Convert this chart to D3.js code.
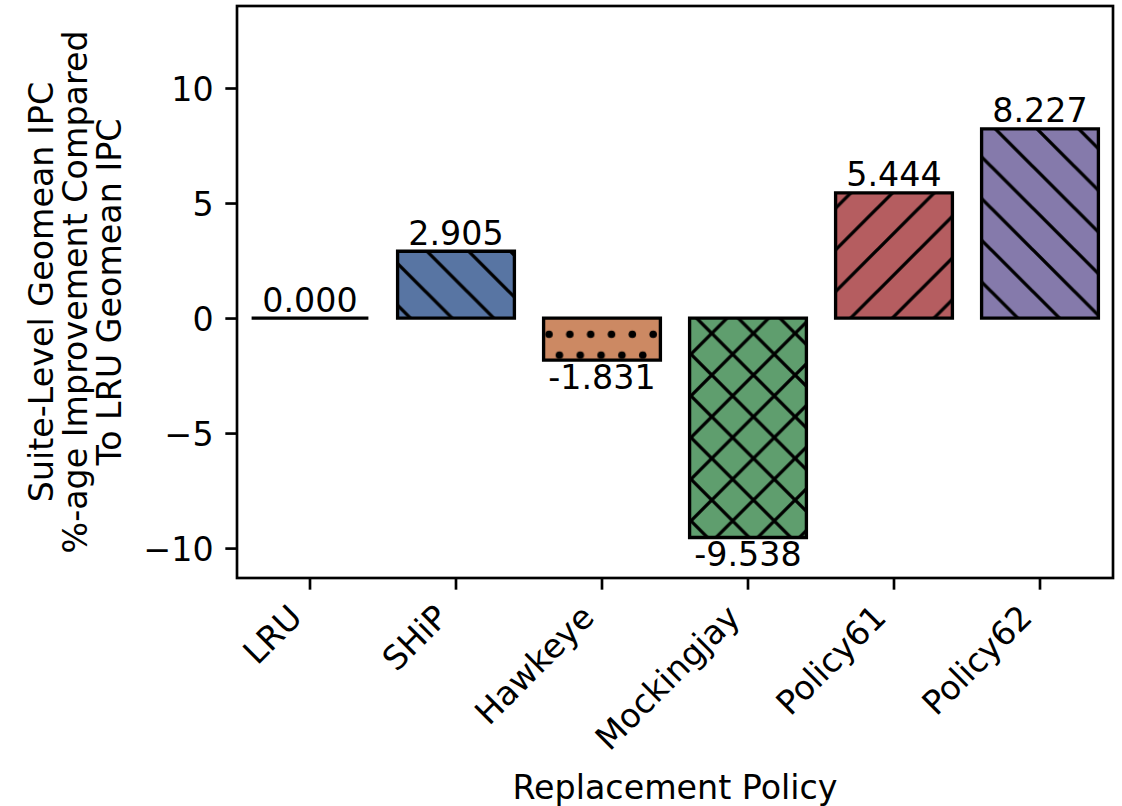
<!DOCTYPE html>
<html><head><meta charset="utf-8">
<script src="https://cdn.jsdelivr.net/npm/d3@7"></script>
<style>body{margin:0;background:#fff}</style>
</head><body><svg id="c" width="1122" height="806"></svg>
<script>
const categories = ["LRU", "SHiP", "Hawkeye", "Mockingjay", "Policy61", "Policy62"];
const values = [0.000, 2.905, -1.831, -9.538, 5.444, 8.227];
const colors = ["#5875a3", "#5875a3", "#cc8963", "#5f9e6e", "#b55d60", "#857aab"];
const hatches = ["", "\\", ".", "x", "/", "\\"];
const hatchPhase = [[0,0], [9,0], [543.8,323.9], [3.4,0], [2,0], [33,0]];
const yTicks = [-10, -5, 0, 5, 10];
const yDomain = [-11.30, 13.565];
const yLabelLines = ["Suite-Level Geomean IPC", "%-age Improvement Compared", "To LRU Geomean IPC"];
const xLabel = "Replacement Policy";

const W = 1122, H = 806;
const L = 237, R = 1113, T = 6, B = 578;
const FS = 33.3, LW = 3.33, SW = 2.67, TL = 11.67, PAD = 11.67;
const FONT = "DejaVu Sans";
const S = 41.67;

const svg = d3.select("#c");
const x = d3.scaleBand().domain(categories).range([L, R]).paddingInner(0.2).paddingOuter(0.1);
const y = d3.scaleLinear().domain(yDomain).range([B, T]);

const defs = svg.append("defs");
function linesPath(kind) {
  let d = "";
  if (kind === "\\" || kind === "x") {
    for (const c of [-S, 0, S]) d += `M${c-10},${-10}L${c+S+10},${S+10}`;
  }
  if (kind === "/" || kind === "x") {
    for (const c of [0, S, 2*S]) d += `M${c+10},${-10}L${c-S-10},${S+10}`;
  }
  return d;
}
hatches.forEach((h, i) => {
  if (!h) return;
  const p = defs.append("pattern").attr("id", "hp" + i)
    .attr("patternUnits", "userSpaceOnUse")
    .attr("patternTransform", `translate(${hatchPhase[i][0]},${hatchPhase[i][1]})`);
  if (h === ".") {
    p.attr("width", S/2).attr("height", S);
    [[S/8, S/4], [3*S/8, 3*S/4]].forEach(([cx, cy]) => {
      for (const dx of [-S/2, 0, S/2]) for (const dy of [-S, 0, S])
        p.append("circle").attr("cx", cx+dx).attr("cy", cy+dy).attr("r", 3.8).attr("fill", "#000");
    });
  } else {
    p.attr("width", S).attr("height", S);
    p.append("path").attr("d", linesPath(h)).attr("stroke", "#000").attr("stroke-width", LW).attr("fill", "none");
  }
});

// bars
const g = svg.append("g");
function barPath(i) {
  const x0 = x(categories[i]), x1 = x0 + x.bandwidth();
  const ya = y(0), yb = y(values[i]);
  return `M${x0},${ya}H${x1}V${yb}H${x0}Z`;
}
categories.forEach((c, i) => {
  g.append("path").attr("d", barPath(i)).attr("fill", colors[i]);
  if (hatches[i]) g.append("path").attr("d", barPath(i)).attr("fill", `url(#hp${i})`);
  g.append("path").attr("d", barPath(i)).attr("fill", "none").attr("stroke", "#000")
    .attr("stroke-width", LW).attr("stroke-linejoin", "miter");
});

// value labels
categories.forEach((c, i) => {
  const v = values[i];
  const cx = x(c) + x.bandwidth()/2;
  const ty = v >= 0 ? y(v) - 6.5 : y(v) + 29;
  svg.append("text").attr("x", cx).attr("y", ty).attr("text-anchor", "middle")
    .attr("font-family", FONT).attr("font-size", FS).attr("fill", "#000")
    .text(v.toFixed(3));
});

// frame
svg.append("rect").attr("x", L).attr("y", T).attr("width", R-L).attr("height", B-T)
  .attr("fill", "none").attr("stroke", "#000").attr("stroke-width", SW);

// y axis
const yAxis = svg.append("g").attr("transform", `translate(${L},0)`)
  .call(d3.axisLeft(y).tickValues(yTicks).tickSize(TL).tickPadding(PAD)
    .tickFormat(d => d < 0 ? "\u2212" + Math.abs(d) : String(d)));
yAxis.select(".domain").remove();
yAxis.selectAll(".tick line").attr("stroke", "#000").attr("stroke-width", SW);
yAxis.selectAll(".tick text").attr("font-family", FONT).attr("font-size", FS).attr("fill", "#000").attr("dy", "0.36em");

// x axis
const xAxis = svg.append("g").attr("transform", `translate(0,${B})`)
  .call(d3.axisBottom(x).tickSize(TL).tickPadding(PAD));
xAxis.select(".domain").remove();
xAxis.selectAll(".tick line").attr("stroke", "#000").attr("stroke-width", SW);
xAxis.selectAll(".tick text")
  .attr("font-family", FONT).attr("font-size", FS).attr("fill", "#000")
  .attr("text-anchor", "end").attr("dy", null).attr("y", null)
  .attr("transform", `translate(-6,${TL + PAD + 18}) rotate(-45)`);

// axis labels
svg.append("text").attr("x", (L+R)/2).attr("y", 799).attr("text-anchor", "middle")
  .attr("font-family", FONT).attr("font-size", FS).attr("fill", "#000").text(xLabel);
const yl = svg.append("text").attr("transform", `translate(0,${(T+B)/2}) rotate(-90)`)
  .attr("text-anchor", "middle").attr("font-family", FONT).attr("font-size", FS).attr("fill", "#000");
yLabelLines.forEach((t, i) => {
  yl.append("tspan").attr("x", 0).attr("y", 53 + i*34).text(t);
});
</script></body></html>
